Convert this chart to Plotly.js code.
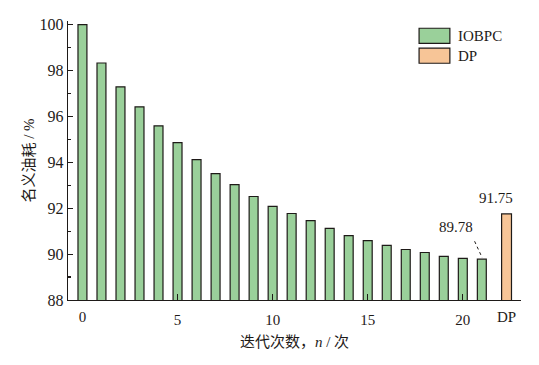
<!DOCTYPE html>
<html>
<head>
<meta charset="utf-8">
<script src="https://cdn.plot.ly/plotly-3.0.1.min.js"></script>
<style>html,body{margin:0;padding:0;background:#fff;}#chart{width:539px;height:365px;}</style>
</head>
<body>
<div id="chart"></div>
<script>
// ---- data ----
const iterations = [0,1,2,3,4,5,6,7,8,9,10,11,12,13,14,15,16,17,18,19,20,21];
const iobpcFuel = [100.00,98.33,97.29,96.42,95.59,94.86,94.12,93.51,93.03,92.51,92.08,91.77,91.46,91.12,90.81,90.59,90.38,90.20,90.07,89.90,89.81,89.78];
const dpPosition = [22.3];
const dpFuel = [91.75];
const xTickVals = [5,10,15,20];
const xExtraTickVals = [0, 22.3];
const xExtraTickText = ['0', 'DP'];
const yTickVals = [88,90,92,94,96,98,100];
const seriesNames = ['IOBPC', 'DP'];
const seriesColors = ['#9ad09a', '#f7c597'];

const FONT = '"Times New Roman", "Liberation Serif", serif';
const CJK = '"Times New Roman", "Liberation Serif", "Noto Sans CJK SC", serif';
const INK = '#1e1a18';
const lastIdx = iobpcFuel.length - 1;
const lastX = iterations[lastIdx];
const lastY = iobpcFuel[lastIdx];

const traces = [
  {type:'bar', x:iterations, y:iobpcFuel, name:seriesNames[0], width:0.47,
   marker:{color:seriesColors[0], line:{color:INK, width:1.2}}, xaxis:'x', yaxis:'y'},
  {type:'bar', x:dpPosition, y:dpFuel, name:seriesNames[1], width:0.52,
   marker:{color:seriesColors[1], line:{color:INK, width:1.2}}, xaxis:'x2', yaxis:'y'}
];

// legend drawn as boxes + text in paper coordinates
const legShapes = [], legAnn = [];
seriesNames.forEach((nm, i) => {
  const yc = 0.947 - i*0.0715;
  legShapes.push({type:'rect', xref:'paper', yref:'paper', x0:0.775, x1:0.843, y0:yc-0.027, y1:yc+0.027,
                  fillcolor:seriesColors[i], line:{color:INK, width:1.2}});
  legAnn.push({xref:'paper', yref:'paper', x:0.856, y:yc, xanchor:'left', yanchor:'middle', text:nm,
               showarrow:false, font:{family:FONT, size:15, color:INK}});
});

const xr = [-0.76, 23.06];
const layout = {
  width:539, height:365,
  margin:{l:68, r:18, t:21, b:65},
  paper_bgcolor:'#fff', plot_bgcolor:'#fff',
  font:{family:FONT, size:15, color:INK},
  barmode:'overlay',
  showlegend:false,
  xaxis:{range:xr, tickvals:xTickVals, ticks:'inside', ticklen:6, tickwidth:1.2, tickcolor:INK,
         showline:true, linecolor:INK, linewidth:1.2, showgrid:false, zeroline:false,
         ticklabelstandoff:6, tickfont:{family:FONT, size:15, color:INK},
         title:{text:'迭代次数，<i>n</i> / 次', font:{family:CJK, size:15, color:INK}, standoff:9}},
  xaxis2:{range:xr, overlaying:'x', anchor:'y', side:'bottom', tickvals:xExtraTickVals, ticktext:xExtraTickText,
          ticks:'', showline:false, showgrid:false, zeroline:false, ticklabelstandoff:6,
          tickfont:{family:FONT, size:15, color:INK}},
  yaxis:{range:[88, 100.16], tickvals:yTickVals, ticks:'inside', ticklen:5, tickwidth:1.2, tickcolor:INK,
         minor:{dtick:1, ticks:'inside', ticklen:3, tickwidth:1.2, tickcolor:INK},
         showline:true, linecolor:INK, linewidth:1.2, showgrid:false, zeroline:false,
         tickfont:{family:FONT, size:16, color:INK},
         title:{text:'名义油耗 / %', font:{family:CJK, size:15, color:INK}, standoff:1}},
  annotations:[
    {x:lastX-1.36, y:lastY+1.39, xref:'x', yref:'y', text:lastY.toFixed(2), showarrow:false,
     font:{family:FONT, size:15, color:INK}},
    {x:dpPosition[0]-0.53, y:dpFuel[0]+0.68, xref:'x', yref:'y', text:dpFuel[0].toFixed(2), showarrow:false,
     font:{family:FONT, size:15, color:INK}}
  ].concat(legAnn),
  shapes:[
    {type:'line', xref:'x', yref:'y', x0:lastX-0.38, y0:lastY+0.78, x1:lastX+0.02, y1:lastY+0.06,
     line:{color:INK, width:1, dash:'dot'}}
  ].concat(legShapes)
};
Plotly.newPlot('chart', traces, layout, {displayModeBar:false, staticPlot:true});
</script>
</body>
</html>
